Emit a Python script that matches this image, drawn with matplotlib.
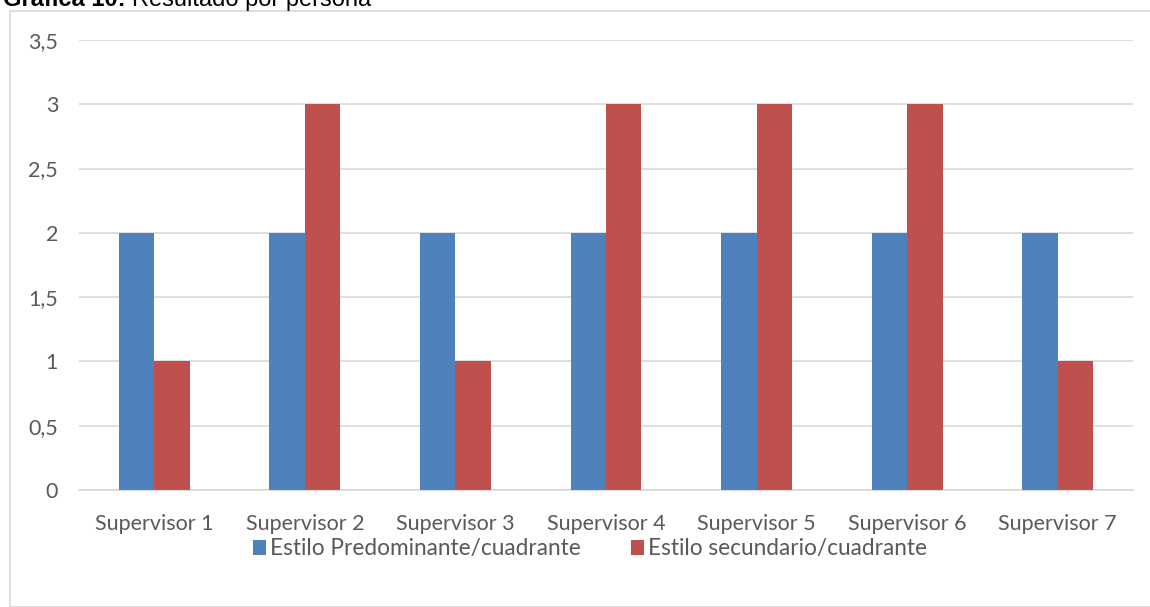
import matplotlib
matplotlib.use("Agg")
import matplotlib.pyplot as plt
from matplotlib.patches import Rectangle
import numpy as np

categories = ["Supervisor 1", "Supervisor 2", "Supervisor 3", "Supervisor 4",
              "Supervisor 5", "Supervisor 6", "Supervisor 7"]
predominante = [2, 2, 2, 2, 2, 2, 2]
secundario = [1, 3, 1, 3, 3, 3, 1]
series_names = ["Estilo Predominante/cuadrante", "Estilo secundario/cuadrante"]
yticks = [0, 0.5, 1, 1.5, 2, 2.5, 3, 3.5]
ytick_labels = ["0", "0,5", "1", "1,5", "2", "2,5", "3", "3,5"]

W, H = 1150, 607
fig = plt.figure(figsize=(W / 100, H / 100), dpi=100)

FONT = "Lato"
FS = 15.5

# outer chart border
fig.patches.append(Rectangle((10 / W, 0), 1.2, 1 - 11 / H, transform=fig.transFigure,
                             fill=False, edgecolor="#D9D9D9", linewidth=1.2))

# title (clipped at top as in reference)
t1 = fig.text(3 / W, 1 - 6 / H, "Gráfica 10:", fontsize=17, fontweight="bold",
              family="Liberation Sans", va="baseline", ha="left")
fig.canvas.draw()
bb = t1.get_window_extent()
fig.text((bb.x1 + 6) / W, 1 - 6 / H, "Resultado por persona", fontsize=17,
         family="Liberation Sans", va="baseline", ha="left")

left, right, top, bottom = 79, 1133, 40, 490
ax = fig.add_axes([left / W, 1 - bottom / H, (right - left) / W, (bottom - top) / H])

x = np.arange(len(categories))
bw = 0.235
c1, c2 = "#4F81BD", "#C0504D"
ax.bar(x - bw / 2, predominante, bw, color=c1, label=series_names[0], zorder=3)
ax.bar(x + bw / 2, secundario, bw, color=c2, label=series_names[1], zorder=3)

ax.set_xlim(-0.5, len(categories) - 0.5)
ax.set_ylim(0, 3.5)
ax.set_yticks(yticks)
ax.set_yticklabels(ytick_labels)
ax.set_xticks(x)
ax.set_xticklabels(categories)
ax.yaxis.grid(True, color="#D9D9D9", linewidth=1.2, zorder=0)
for s in ["top", "right", "left"]:
    ax.spines[s].set_visible(False)
ax.spines["bottom"].set_color("#D9D9D9")
ax.spines["bottom"].set_linewidth(1.2)
ax.tick_params(axis="both", length=0, labelsize=FS, labelcolor="#595959")
ax.tick_params(axis="y", pad=15)
ax.tick_params(axis="x", pad=17)
for lab in ax.get_xticklabels() + ax.get_yticklabels():
    lab.set_family(FONT)

leg = fig.legend(loc="center", bbox_to_anchor=(0.513, 1 - 549 / H), ncol=2, frameon=False,
                 handlelength=0.58, handleheight=0.58, handletextpad=0.2, columnspacing=2.2,
                 prop={"family": FONT, "size": 16.3})
for txt in leg.get_texts():
    txt.set_color("#595959")

fig.savefig("out.png", dpi=100)
